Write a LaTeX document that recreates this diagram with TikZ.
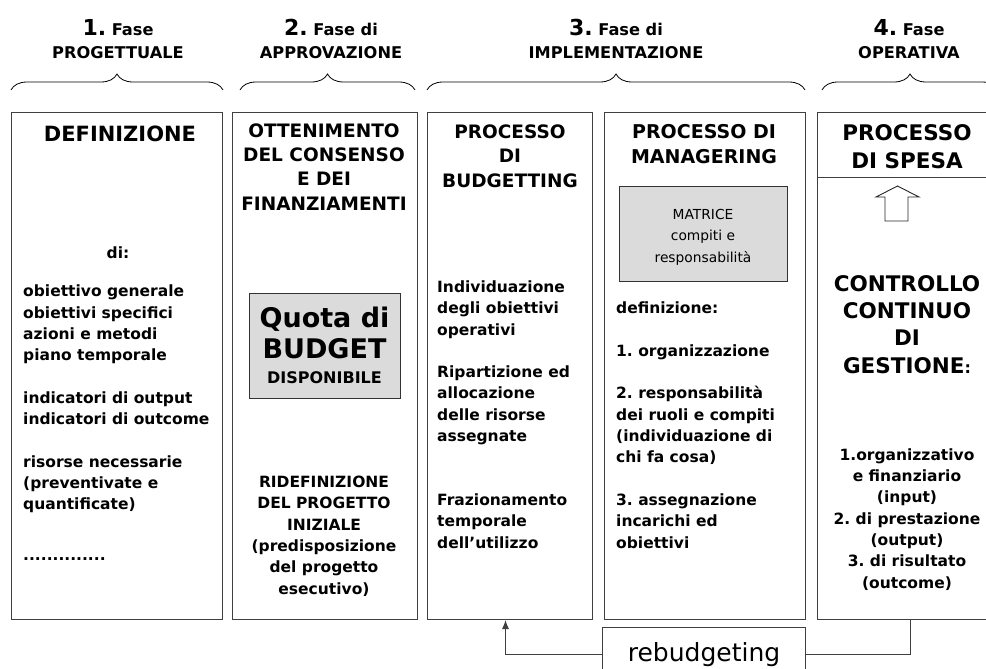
\documentclass[tikz,border=0pt]{standalone}
\usepackage{fontspec}
\setmainfont{DejaVu Sans}
\usetikzlibrary{decorations.pathreplacing,arrows.meta}
\definecolor{boxgray}{rgb}{0.86,0.86,0.86}
\newcommand{\phnum}[1]{{\fontsize{22}{23}\selectfont #1}}
\frenchspacing

\begin{document}
\begin{tikzpicture}[x=1pt,y=-1pt,
    panel/.style={draw=black!75, line width=1pt, inner sep=0pt, anchor=north west},
    greybox/.style={draw=black!80, line width=1pt, fill=boxgray, align=center, inner sep=0pt},
    phase/.style={align=center, inner sep=0pt, anchor=base, font=\bfseries\fontsize{16.2}{23}\selectfont},
    title/.style={align=center, inner sep=0pt, anchor=base, font=\bfseries\fontsize{18.5}{24.2}\selectfont},
    bigtitle/.style={title, font=\bfseries\fontsize{21.5}{27.2}\selectfont},
    body/.style={align=left, inner sep=0pt, anchor=base west, font=\bfseries\fontsize{15.5}{21.3}\selectfont},
    bodyc/.style={body, align=center, anchor=base},
    brc/.style={decorate, decoration={brace, amplitude=16pt}, line width=0.8pt},
    link/.style={draw=black!75, line width=1pt}
  ]
  \useasboundingbox (0,0) rectangle (986,669);
  \clip (0,0) rectangle (986,669);

  \node[phase] (ph1) at (118,59) {\phnum{1.} Fase\\PROGETTUALE};
  \node[phase] (ph2) at (331,59) {\phnum{2.} Fase di\\APPROVAZIONE};
  \node[phase] (ph3) at (616,59) {\phnum{3.} Fase di\\IMPLEMENTAZIONE};
  \node[phase] (ph4) at (909,59) {\phnum{4.} Fase\\OPERATIVA};

  \draw[brc] (11,90) -- (223,90);
  \draw[brc] (240,90) -- (415,90);
  \draw[brc] (427,90) -- (805,90);
  \draw[brc] (822,90) -- (998,90);

  \node[panel, minimum width=211pt, minimum height=507pt] (progetto) at (11,112) {};
  \node[panel, minimum width=185pt, minimum height=507pt] (approva) at (232,112) {};
  \node[panel, minimum width=165pt, minimum height=507pt] (budget) at (427,112) {};
  \node[panel, minimum width=201pt, minimum height=507pt] (manage) at (604,112) {};
  \node[panel, minimum width=186pt, minimum height=507pt] (spesa) at (817,112) {};
  \draw[link] (817,177) -- (1003,177);

  \node[title, font=\bfseries\fontsize{21}{25}\selectfont] (deftitle) at (120,142) {DEFINIZIONE};
  \node[title, font=\bfseries\fontsize{15.5}{21}\selectfont] (di) at (118,258) {di:};
  \node[body] (deflist) at (23,560) {obiettivo generale\\obiettivi specifici\\azioni e metodi\\piano temporale\\[21.3pt]indicatori di output\\indicatori di outcome\\[21.3pt]risorse necessarie\\(preventivate e\\quantificate)\\[29pt]..............};

  \node[title] (ottiene) at (324,210) {OTTENIMENTO\\DEL CONSENSO\\E DEI\\FINANZIAMENTI};
  \node[greybox, minimum width=151pt, minimum height=105pt, font=\bfseries\fontsize{27}{31}\selectfont] (quota) at (324.5,345.5) {Quota di\\BUDGET\\[-6pt]{\fontsize{16}{19}\selectfont DISPONIBILE}};
  \node[bodyc] (ridef) at (324,594) {RIDEFINIZIONE\\DEL PROGETTO\\INIZIALE\\(predisposizione\\del progetto\\esecutivo)};

  \node[title] (budtitle) at (510,187) {PROCESSO\\DI\\BUDGETTING};
  \node[body] (budlist) at (437,548) {Individuazione\\degli obiettivi\\operativi\\[21.3pt]Ripartizione ed\\allocazione\\delle risorse\\assegnate\\[42.6pt]Frazionamento\\temporale\\dell’utilizzo};

  \node[title, font=\bfseries\fontsize{19}{25}\selectfont] (mantitle) at (704,163) {PROCESSO DI\\MANAGERING};
  \node[greybox, minimum width=168pt, minimum height=95pt] (matrice) at (703,233.5) {};
  \node[align=center, inner sep=0pt, anchor=base, font=\fontsize{13.8}{21.5}\selectfont] (mattext) at (703,262) {MATRICE\\compiti e\\responsabilità};
  \node[body] (manlist) at (616,548) {definizione:\\[21.3pt]1. organizzazione\\[21.3pt]2. responsabilità\\dei ruoli e compiti\\(individuazione di\\chi fa cosa)\\[21.3pt]3. assegnazione\\incarichi ed\\obiettivi};

  \node[bigtitle] (spetitle) at (907,168) {PROCESSO\\DI SPESA};
  \draw[draw=black!85, line width=0.9pt] (897.5,186) -- (919,197) -- (908,197) -- (908,221) -- (885,221) -- (885,197) -- (876,197) -- cycle;
  \node[bigtitle] (controllo) at (907,373) {CONTROLLO\\CONTINUO\\DI\\GESTIONE{\fontsize{16}{19}\selectfont :}};
  \node[bodyc] (ctrllist) at (907,588) {1.organizzativo\\e finanziario\\(input)\\2. di prestazione\\(output)\\3. di risultato\\(outcome)};

  \node[panel, minimum width=203pt, minimum height=54pt, font=\fontsize{25}{28}\selectfont] (rebud) at (602,627) {rebudgeting};
  \draw[link] (spesa.south) |- (rebud.east);
  \draw[link, -{Latex[length=9pt,width=7pt]}] (rebud.west) -| ([xshift=-4.5pt]budget.south);
\end{tikzpicture}
\end{document}
